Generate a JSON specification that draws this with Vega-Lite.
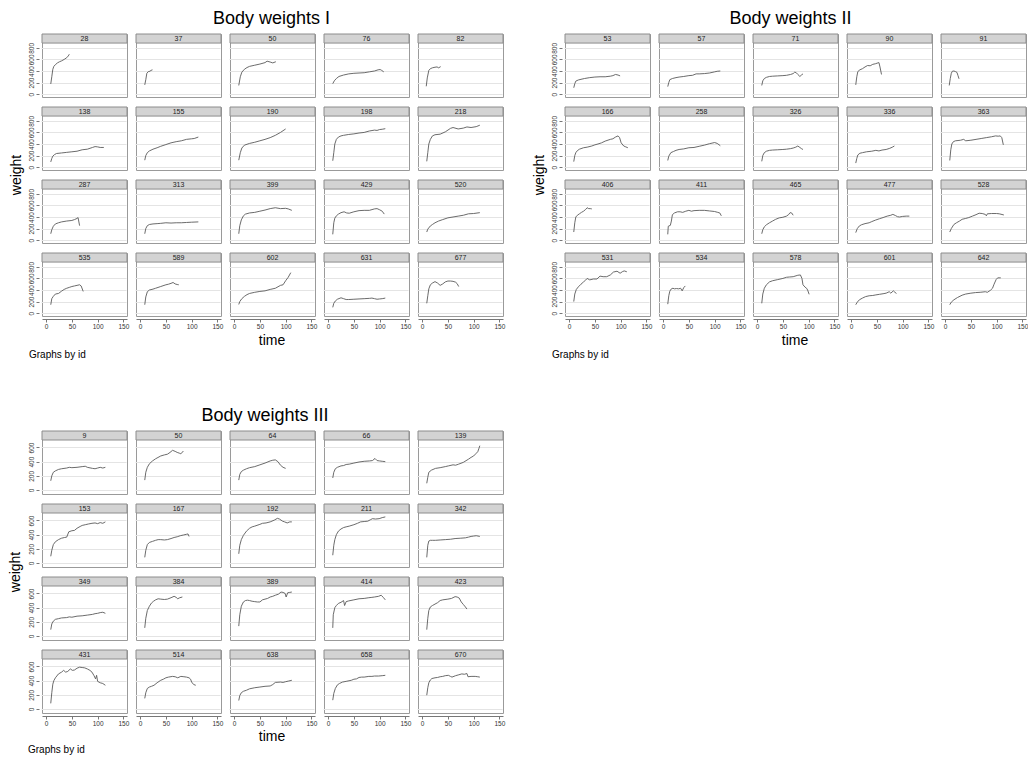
{
"$schema": "https://vega.github.io/schema/vega-lite/v6.json",
"background": "white",
"padding": {"left": 8, "top": 10, "right": 0, "bottom": 0},
"config": {
  "font": "Liberation Sans",
  "view": {"stroke": "#9a9a9a", "strokeWidth": 1},
  "title": {"fontSize": 18, "fontWeight": "normal", "color": "#000", "offset": 5, "anchor": "middle"},
  "header": {"titleFontSize": 14, "titleFontWeight": "normal", "titleColor": "#000"},
  "axisX": {"grid": false, "tickSize": 3, "tickColor": "#777", "domainColor": "#777", "labelFontSize": 6.5, "labelColor": "#333", "labelPadding": 1, "offset": 2, "labelOverlap": false, "labelFlush": false},
  "axisY": {"grid": true, "gridColor": "#e4e4e4", "gridWidth": 1.2, "domain": false, "tickSize": 3, "tickColor": "#777", "labelAngle": -90, "labelFontSize": 6.5, "labelColor": "#333", "labelPadding": 2, "offset": 1, "labelOverlap": false, "labelFlush": false}
},
"datasets": {
"g1": [
{"id":28,"time":9,"weight":175},{"id":28,"time":11,"weight":300},{"id":28,"time":13,"weight":430},{"id":28,"time":15,"weight":480},{"id":28,"time":18,"weight":510},{"id":28,"time":22,"weight":540},{"id":28,"time":26,"weight":560},{"id":28,"time":30,"weight":575},{"id":28,"time":35,"weight":600},{"id":28,"time":40,"weight":630},{"id":28,"time":43,"weight":660},{"id":28,"time":45,"weight":690},
{"id":37,"time":9,"weight":160},{"id":37,"time":11,"weight":250},{"id":37,"time":13,"weight":360},{"id":37,"time":16,"weight":390},{"id":37,"time":19,"weight":395},{"id":37,"time":21,"weight":410},{"id":37,"time":24,"weight":420},
{"id":50,"time":9,"weight":150},{"id":50,"time":12,"weight":300},{"id":50,"time":15,"weight":380},{"id":50,"time":20,"weight":430},{"id":50,"time":25,"weight":460},{"id":50,"time":30,"weight":480},{"id":50,"time":40,"weight":500},{"id":50,"time":50,"weight":520},{"id":50,"time":60,"weight":545},{"id":50,"time":64,"weight":570},{"id":50,"time":70,"weight":555},{"id":50,"time":75,"weight":540},{"id":50,"time":81,"weight":560},
{"id":76,"time":9,"weight":180},{"id":76,"time":12,"weight":230},{"id":76,"time":16,"weight":270},{"id":76,"time":21,"weight":305},{"id":76,"time":30,"weight":330},{"id":76,"time":40,"weight":350},{"id":76,"time":50,"weight":360},{"id":76,"time":60,"weight":365},{"id":76,"time":70,"weight":370},{"id":76,"time":80,"weight":385},{"id":76,"time":90,"weight":400},{"id":76,"time":97,"weight":420},{"id":76,"time":101,"weight":425},{"id":76,"time":104,"weight":410},{"id":76,"time":108,"weight":385},
{"id":82,"time":8,"weight":135},{"id":82,"time":10,"weight":280},{"id":82,"time":13,"weight":410},{"id":82,"time":16,"weight":440},{"id":82,"time":20,"weight":455},{"id":82,"time":25,"weight":465},{"id":82,"time":29,"weight":470},{"id":82,"time":32,"weight":455},{"id":82,"time":36,"weight":475},
{"id":138,"time":9,"weight":90},{"id":138,"time":11,"weight":150},{"id":138,"time":13,"weight":190},{"id":138,"time":16,"weight":215},{"id":138,"time":20,"weight":235},{"id":138,"time":30,"weight":245},{"id":138,"time":40,"weight":255},{"id":138,"time":50,"weight":265},{"id":138,"time":60,"weight":275},{"id":138,"time":70,"weight":300},{"id":138,"time":80,"weight":310},{"id":138,"time":90,"weight":340},{"id":138,"time":95,"weight":355},{"id":138,"time":100,"weight":350},{"id":138,"time":105,"weight":340},{"id":138,"time":112,"weight":340},
{"id":155,"time":9,"weight":120},{"id":155,"time":11,"weight":200},{"id":155,"time":14,"weight":250},{"id":155,"time":18,"weight":280},{"id":155,"time":25,"weight":310},{"id":155,"time":33,"weight":335},{"id":155,"time":40,"weight":360},{"id":155,"time":50,"weight":390},{"id":155,"time":60,"weight":420},{"id":155,"time":70,"weight":440},{"id":155,"time":80,"weight":455},{"id":155,"time":90,"weight":480},{"id":155,"time":100,"weight":490},{"id":155,"time":105,"weight":495},{"id":155,"time":113,"weight":520},
{"id":190,"time":9,"weight":120},{"id":190,"time":12,"weight":250},{"id":190,"time":15,"weight":330},{"id":190,"time":20,"weight":380},{"id":190,"time":30,"weight":410},{"id":190,"time":40,"weight":430},{"id":190,"time":50,"weight":455},{"id":190,"time":60,"weight":480},{"id":190,"time":70,"weight":510},{"id":190,"time":80,"weight":550},{"id":190,"time":90,"weight":600},{"id":190,"time":100,"weight":660},
{"id":198,"time":9,"weight":110},{"id":198,"time":11,"weight":250},{"id":198,"time":13,"weight":400},{"id":198,"time":16,"weight":480},{"id":198,"time":20,"weight":520},{"id":198,"time":25,"weight":540},{"id":198,"time":30,"weight":550},{"id":198,"time":40,"weight":565},{"id":198,"time":50,"weight":575},{"id":198,"time":60,"weight":590},{"id":198,"time":70,"weight":600},{"id":198,"time":80,"weight":625},{"id":198,"time":90,"weight":640},{"id":198,"time":95,"weight":635},{"id":198,"time":100,"weight":650},{"id":198,"time":105,"weight":655},{"id":198,"time":111,"weight":665},
{"id":218,"time":9,"weight":100},{"id":218,"time":11,"weight":250},{"id":218,"time":13,"weight":400},{"id":218,"time":16,"weight":480},{"id":218,"time":20,"weight":540},{"id":218,"time":25,"weight":560},{"id":218,"time":35,"weight":570},{"id":218,"time":45,"weight":610},{"id":218,"time":55,"weight":670},{"id":218,"time":60,"weight":685},{"id":218,"time":70,"weight":660},{"id":218,"time":80,"weight":675},{"id":218,"time":87,"weight":695},{"id":218,"time":95,"weight":685},{"id":218,"time":105,"weight":700},{"id":218,"time":112,"weight":725},
{"id":287,"time":9,"weight":110},{"id":287,"time":11,"weight":180},{"id":287,"time":14,"weight":240},{"id":287,"time":18,"weight":280},{"id":287,"time":24,"weight":300},{"id":287,"time":30,"weight":315},{"id":287,"time":40,"weight":330},{"id":287,"time":50,"weight":340},{"id":287,"time":55,"weight":355},{"id":287,"time":60,"weight":375},{"id":287,"time":62,"weight":390},{"id":287,"time":65,"weight":250},
{"id":313,"time":9,"weight":110},{"id":313,"time":11,"weight":200},{"id":313,"time":14,"weight":250},{"id":313,"time":18,"weight":270},{"id":313,"time":25,"weight":280},{"id":313,"time":33,"weight":285},{"id":313,"time":40,"weight":290},{"id":313,"time":50,"weight":300},{"id":313,"time":60,"weight":295},{"id":313,"time":70,"weight":300},{"id":313,"time":80,"weight":300},{"id":313,"time":90,"weight":305},{"id":313,"time":100,"weight":310},{"id":313,"time":113,"weight":315},
{"id":399,"time":9,"weight":110},{"id":399,"time":11,"weight":250},{"id":399,"time":14,"weight":350},{"id":399,"time":18,"weight":420},{"id":399,"time":22,"weight":450},{"id":399,"time":30,"weight":470},{"id":399,"time":40,"weight":480},{"id":399,"time":50,"weight":500},{"id":399,"time":60,"weight":520},{"id":399,"time":70,"weight":545},{"id":399,"time":80,"weight":560},{"id":399,"time":90,"weight":545},{"id":399,"time":100,"weight":550},{"id":399,"time":105,"weight":540},{"id":399,"time":112,"weight":515},
{"id":429,"time":9,"weight":100},{"id":429,"time":11,"weight":300},{"id":429,"time":13,"weight":380},{"id":429,"time":16,"weight":420},{"id":429,"time":20,"weight":450},{"id":429,"time":25,"weight":475},{"id":429,"time":31,"weight":490},{"id":429,"time":36,"weight":470},{"id":429,"time":41,"weight":465},{"id":429,"time":50,"weight":490},{"id":429,"time":60,"weight":510},{"id":429,"time":70,"weight":515},{"id":429,"time":80,"weight":515},{"id":429,"time":90,"weight":540},{"id":429,"time":95,"weight":545},{"id":429,"time":100,"weight":525},{"id":429,"time":105,"weight":500},{"id":429,"time":109,"weight":450},
{"id":520,"time":9,"weight":140},{"id":520,"time":11,"weight":190},{"id":520,"time":16,"weight":245},{"id":520,"time":20,"weight":270},{"id":520,"time":25,"weight":300},{"id":520,"time":32,"weight":330},{"id":520,"time":40,"weight":355},{"id":520,"time":50,"weight":385},{"id":520,"time":60,"weight":400},{"id":520,"time":70,"weight":415},{"id":520,"time":80,"weight":430},{"id":520,"time":90,"weight":455},{"id":520,"time":100,"weight":460},{"id":520,"time":112,"weight":475},
{"id":535,"time":9,"weight":145},{"id":535,"time":11,"weight":250},{"id":535,"time":14,"weight":290},{"id":535,"time":18,"weight":330},{"id":535,"time":24,"weight":340},{"id":535,"time":30,"weight":380},{"id":535,"time":35,"weight":410},{"id":535,"time":40,"weight":430},{"id":535,"time":45,"weight":445},{"id":535,"time":50,"weight":460},{"id":535,"time":55,"weight":470},{"id":535,"time":60,"weight":480},{"id":535,"time":65,"weight":490},{"id":535,"time":68,"weight":470},{"id":535,"time":72,"weight":375},
{"id":589,"time":9,"weight":145},{"id":589,"time":11,"weight":280},{"id":589,"time":14,"weight":370},{"id":589,"time":18,"weight":400},{"id":589,"time":25,"weight":415},{"id":589,"time":30,"weight":430},{"id":589,"time":40,"weight":460},{"id":589,"time":50,"weight":490},{"id":589,"time":55,"weight":500},{"id":589,"time":60,"weight":515},{"id":589,"time":64,"weight":530},{"id":589,"time":68,"weight":505},{"id":589,"time":72,"weight":495},{"id":589,"time":75,"weight":490},
{"id":602,"time":9,"weight":150},{"id":602,"time":11,"weight":200},{"id":602,"time":15,"weight":250},{"id":602,"time":20,"weight":290},{"id":602,"time":25,"weight":320},{"id":602,"time":30,"weight":340},{"id":602,"time":40,"weight":360},{"id":602,"time":50,"weight":375},{"id":602,"time":60,"weight":385},{"id":602,"time":70,"weight":410},{"id":602,"time":80,"weight":430},{"id":602,"time":90,"weight":480},{"id":602,"time":95,"weight":490},{"id":602,"time":100,"weight":560},{"id":602,"time":105,"weight":620},{"id":602,"time":110,"weight":700},
{"id":631,"time":9,"weight":100},{"id":631,"time":11,"weight":170},{"id":631,"time":14,"weight":210},{"id":631,"time":18,"weight":240},{"id":631,"time":25,"weight":265},{"id":631,"time":30,"weight":250},{"id":631,"time":35,"weight":235},{"id":631,"time":40,"weight":235},{"id":631,"time":50,"weight":240},{"id":631,"time":60,"weight":245},{"id":631,"time":70,"weight":250},{"id":631,"time":80,"weight":255},{"id":631,"time":85,"weight":260},{"id":631,"time":90,"weight":250},{"id":631,"time":95,"weight":240},{"id":631,"time":100,"weight":245},{"id":631,"time":105,"weight":250},{"id":631,"time":111,"weight":260},
{"id":677,"time":9,"weight":170},{"id":677,"time":11,"weight":300},{"id":677,"time":13,"weight":420},{"id":677,"time":16,"weight":490},{"id":677,"time":20,"weight":520},{"id":677,"time":25,"weight":545},{"id":677,"time":30,"weight":520},{"id":677,"time":35,"weight":480},{"id":677,"time":40,"weight":505},{"id":677,"time":45,"weight":540},{"id":677,"time":50,"weight":555},{"id":677,"time":55,"weight":555},{"id":677,"time":60,"weight":550},{"id":677,"time":65,"weight":535},{"id":677,"time":68,"weight":510},{"id":677,"time":71,"weight":460}
],
"g2": [
{"id":53,"time":9,"weight":110},{"id":53,"time":11,"weight":180},{"id":53,"time":13,"weight":225},{"id":53,"time":18,"weight":245},{"id":53,"time":25,"weight":260},{"id":53,"time":30,"weight":270},{"id":53,"time":40,"weight":285},{"id":53,"time":50,"weight":295},{"id":53,"time":60,"weight":300},{"id":53,"time":70,"weight":300},{"id":53,"time":80,"weight":310},{"id":53,"time":85,"weight":320},{"id":53,"time":90,"weight":340},{"id":53,"time":95,"weight":330},{"id":53,"time":99,"weight":315},
{"id":57,"time":9,"weight":130},{"id":57,"time":11,"weight":200},{"id":57,"time":13,"weight":250},{"id":57,"time":18,"weight":270},{"id":57,"time":25,"weight":285},{"id":57,"time":31,"weight":295},{"id":57,"time":40,"weight":305},{"id":57,"time":50,"weight":320},{"id":57,"time":57,"weight":325},{"id":57,"time":64,"weight":350},{"id":57,"time":70,"weight":350},{"id":57,"time":80,"weight":355},{"id":57,"time":90,"weight":365},{"id":57,"time":100,"weight":385},{"id":57,"time":105,"weight":395},{"id":57,"time":111,"weight":400},
{"id":71,"time":9,"weight":150},{"id":71,"time":11,"weight":230},{"id":71,"time":14,"weight":270},{"id":71,"time":18,"weight":290},{"id":71,"time":24,"weight":305},{"id":71,"time":30,"weight":310},{"id":71,"time":40,"weight":315},{"id":71,"time":50,"weight":320},{"id":71,"time":57,"weight":325},{"id":71,"time":65,"weight":340},{"id":71,"time":70,"weight":355},{"id":71,"time":73,"weight":380},{"id":71,"time":76,"weight":370},{"id":71,"time":79,"weight":340},{"id":71,"time":83,"weight":305},{"id":71,"time":86,"weight":330},{"id":71,"time":89,"weight":350},
{"id":90,"time":9,"weight":160},{"id":90,"time":11,"weight":300},{"id":90,"time":13,"weight":390},{"id":90,"time":17,"weight":420},{"id":90,"time":22,"weight":440},{"id":90,"time":27,"weight":470},{"id":90,"time":32,"weight":495},{"id":90,"time":37,"weight":490},{"id":90,"time":42,"weight":515},{"id":90,"time":47,"weight":525},{"id":90,"time":52,"weight":540},{"id":90,"time":54,"weight":545},{"id":90,"time":56,"weight":470},{"id":90,"time":59,"weight":340},
{"id":91,"time":8,"weight":150},{"id":91,"time":10,"weight":270},{"id":91,"time":12,"weight":360},{"id":91,"time":14,"weight":395},{"id":91,"time":17,"weight":400},{"id":91,"time":20,"weight":390},{"id":91,"time":23,"weight":375},{"id":91,"time":25,"weight":320},{"id":91,"time":27,"weight":265},
{"id":166,"time":9,"weight":95},{"id":166,"time":11,"weight":200},{"id":166,"time":13,"weight":250},{"id":166,"time":16,"weight":285},{"id":166,"time":20,"weight":310},{"id":166,"time":28,"weight":335},{"id":166,"time":35,"weight":345},{"id":166,"time":44,"weight":365},{"id":166,"time":50,"weight":385},{"id":166,"time":56,"weight":400},{"id":166,"time":63,"weight":420},{"id":166,"time":70,"weight":450},{"id":166,"time":80,"weight":480},{"id":166,"time":85,"weight":490},{"id":166,"time":90,"weight":520},{"id":166,"time":95,"weight":540},{"id":166,"time":98,"weight":510},{"id":166,"time":101,"weight":420},{"id":166,"time":106,"weight":365},{"id":166,"time":110,"weight":350},{"id":166,"time":114,"weight":335},
{"id":258,"time":9,"weight":115},{"id":258,"time":11,"weight":190},{"id":258,"time":15,"weight":250},{"id":258,"time":20,"weight":270},{"id":258,"time":25,"weight":290},{"id":258,"time":31,"weight":305},{"id":258,"time":40,"weight":315},{"id":258,"time":50,"weight":335},{"id":258,"time":60,"weight":340},{"id":258,"time":70,"weight":360},{"id":258,"time":80,"weight":380},{"id":258,"time":90,"weight":405},{"id":258,"time":95,"weight":415},{"id":258,"time":100,"weight":425},{"id":258,"time":105,"weight":410},{"id":258,"time":111,"weight":370},
{"id":326,"time":9,"weight":100},{"id":326,"time":11,"weight":200},{"id":326,"time":14,"weight":250},{"id":326,"time":18,"weight":275},{"id":326,"time":24,"weight":290},{"id":326,"time":30,"weight":295},{"id":326,"time":40,"weight":300},{"id":326,"time":50,"weight":305},{"id":326,"time":57,"weight":310},{"id":326,"time":65,"weight":320},{"id":326,"time":70,"weight":330},{"id":326,"time":75,"weight":345},{"id":326,"time":79,"weight":365},{"id":326,"time":83,"weight":340},{"id":326,"time":86,"weight":320},{"id":326,"time":89,"weight":305},
{"id":336,"time":9,"weight":70},{"id":336,"time":11,"weight":150},{"id":336,"time":13,"weight":210},{"id":336,"time":17,"weight":240},{"id":336,"time":22,"weight":250},{"id":336,"time":30,"weight":265},{"id":336,"time":40,"weight":275},{"id":336,"time":48,"weight":290},{"id":336,"time":54,"weight":280},{"id":336,"time":60,"weight":295},{"id":336,"time":68,"weight":305},{"id":336,"time":75,"weight":325},{"id":336,"time":80,"weight":345},{"id":336,"time":84,"weight":365},
{"id":363,"time":9,"weight":115},{"id":363,"time":11,"weight":300},{"id":363,"time":13,"weight":400},{"id":363,"time":16,"weight":440},{"id":363,"time":20,"weight":455},{"id":363,"time":25,"weight":460},{"id":363,"time":30,"weight":465},{"id":363,"time":36,"weight":480},{"id":363,"time":40,"weight":455},{"id":363,"time":50,"weight":465},{"id":363,"time":60,"weight":480},{"id":363,"time":70,"weight":495},{"id":363,"time":80,"weight":510},{"id":363,"time":90,"weight":525},{"id":363,"time":98,"weight":540},{"id":363,"time":103,"weight":535},{"id":363,"time":107,"weight":540},{"id":363,"time":110,"weight":510},{"id":363,"time":113,"weight":385},
{"id":406,"time":9,"weight":140},{"id":406,"time":11,"weight":300},{"id":406,"time":13,"weight":400},{"id":406,"time":16,"weight":430},{"id":406,"time":20,"weight":455},{"id":406,"time":24,"weight":480},{"id":406,"time":28,"weight":500},{"id":406,"time":32,"weight":530},{"id":406,"time":35,"weight":560},{"id":406,"time":38,"weight":545},{"id":406,"time":41,"weight":545},{"id":406,"time":44,"weight":540},
{"id":411,"time":9,"weight":100},{"id":411,"time":10,"weight":240},{"id":411,"time":14,"weight":255},{"id":411,"time":16,"weight":330},{"id":411,"time":18,"weight":440},{"id":411,"time":22,"weight":470},{"id":411,"time":28,"weight":490},{"id":411,"time":33,"weight":490},{"id":411,"time":38,"weight":480},{"id":411,"time":44,"weight":500},{"id":411,"time":50,"weight":515},{"id":411,"time":55,"weight":500},{"id":411,"time":60,"weight":510},{"id":411,"time":70,"weight":515},{"id":411,"time":80,"weight":515},{"id":411,"time":90,"weight":505},{"id":411,"time":100,"weight":495},{"id":411,"time":106,"weight":480},{"id":411,"time":110,"weight":470},{"id":411,"time":113,"weight":420},
{"id":465,"time":9,"weight":110},{"id":465,"time":11,"weight":180},{"id":465,"time":14,"weight":230},{"id":465,"time":18,"weight":265},{"id":465,"time":24,"weight":300},{"id":465,"time":30,"weight":330},{"id":465,"time":36,"weight":360},{"id":465,"time":43,"weight":385},{"id":465,"time":50,"weight":395},{"id":465,"time":57,"weight":415},{"id":465,"time":61,"weight":440},{"id":465,"time":64,"weight":475},{"id":465,"time":67,"weight":470},{"id":465,"time":70,"weight":430},
{"id":477,"time":9,"weight":130},{"id":477,"time":12,"weight":200},{"id":477,"time":16,"weight":245},{"id":477,"time":20,"weight":265},{"id":477,"time":27,"weight":285},{"id":477,"time":35,"weight":300},{"id":477,"time":40,"weight":320},{"id":477,"time":47,"weight":345},{"id":477,"time":55,"weight":370},{"id":477,"time":62,"weight":390},{"id":477,"time":70,"weight":415},{"id":477,"time":77,"weight":430},{"id":477,"time":81,"weight":445},{"id":477,"time":86,"weight":425},{"id":477,"time":90,"weight":405},{"id":477,"time":94,"weight":400},{"id":477,"time":100,"weight":410},{"id":477,"time":107,"weight":415},{"id":477,"time":113,"weight":415},
{"id":528,"time":9,"weight":140},{"id":528,"time":12,"weight":200},{"id":528,"time":17,"weight":270},{"id":528,"time":22,"weight":300},{"id":528,"time":28,"weight":330},{"id":528,"time":33,"weight":360},{"id":528,"time":40,"weight":375},{"id":528,"time":46,"weight":390},{"id":528,"time":53,"weight":415},{"id":528,"time":60,"weight":440},{"id":528,"time":66,"weight":465},{"id":528,"time":72,"weight":460},{"id":528,"time":78,"weight":445},{"id":528,"time":80,"weight":420},{"id":528,"time":82,"weight":455},{"id":528,"time":90,"weight":460},{"id":528,"time":100,"weight":460},{"id":528,"time":105,"weight":455},{"id":528,"time":114,"weight":435},
{"id":531,"time":9,"weight":200},{"id":531,"time":11,"weight":330},{"id":531,"time":14,"weight":410},{"id":531,"time":18,"weight":455},{"id":531,"time":23,"weight":500},{"id":531,"time":28,"weight":540},{"id":531,"time":32,"weight":570},{"id":531,"time":35,"weight":600},{"id":531,"time":40,"weight":575},{"id":531,"time":47,"weight":590},{"id":531,"time":54,"weight":590},{"id":531,"time":60,"weight":640},{"id":531,"time":66,"weight":630},{"id":531,"time":73,"weight":630},{"id":531,"time":80,"weight":660},{"id":531,"time":86,"weight":710},{"id":531,"time":93,"weight":725},{"id":531,"time":99,"weight":690},{"id":531,"time":104,"weight":720},{"id":531,"time":107,"weight":730},{"id":531,"time":112,"weight":715},
{"id":534,"time":9,"weight":155},{"id":534,"time":11,"weight":300},{"id":534,"time":13,"weight":380},{"id":534,"time":16,"weight":420},{"id":534,"time":19,"weight":430},{"id":534,"time":22,"weight":420},{"id":534,"time":26,"weight":425},{"id":534,"time":30,"weight":420},{"id":534,"time":34,"weight":430},{"id":534,"time":37,"weight":385},{"id":534,"time":40,"weight":440},{"id":534,"time":43,"weight":470},
{"id":578,"time":9,"weight":170},{"id":578,"time":11,"weight":330},{"id":578,"time":14,"weight":430},{"id":578,"time":18,"weight":490},{"id":578,"time":24,"weight":540},{"id":578,"time":30,"weight":560},{"id":578,"time":40,"weight":580},{"id":578,"time":50,"weight":600},{"id":578,"time":57,"weight":620},{"id":578,"time":63,"weight":625},{"id":578,"time":70,"weight":630},{"id":578,"time":79,"weight":655},{"id":578,"time":84,"weight":660},{"id":578,"time":87,"weight":600},{"id":578,"time":89,"weight":490},{"id":578,"time":93,"weight":450},{"id":578,"time":96,"weight":430},{"id":578,"time":98,"weight":400},{"id":578,"time":101,"weight":325},
{"id":601,"time":9,"weight":145},{"id":601,"time":12,"weight":190},{"id":601,"time":16,"weight":230},{"id":601,"time":22,"weight":260},{"id":601,"time":28,"weight":285},{"id":601,"time":35,"weight":300},{"id":601,"time":42,"weight":305},{"id":601,"time":48,"weight":315},{"id":601,"time":55,"weight":325},{"id":601,"time":62,"weight":335},{"id":601,"time":68,"weight":345},{"id":601,"time":74,"weight":370},{"id":601,"time":77,"weight":345},{"id":601,"time":82,"weight":385},{"id":601,"time":85,"weight":360},{"id":601,"time":88,"weight":340},
{"id":642,"time":9,"weight":145},{"id":642,"time":12,"weight":190},{"id":642,"time":17,"weight":230},{"id":642,"time":24,"weight":270},{"id":642,"time":33,"weight":310},{"id":642,"time":40,"weight":330},{"id":642,"time":50,"weight":345},{"id":642,"time":59,"weight":355},{"id":642,"time":68,"weight":360},{"id":642,"time":78,"weight":370},{"id":642,"time":82,"weight":360},{"id":642,"time":88,"weight":395},{"id":642,"time":92,"weight":430},{"id":642,"time":95,"weight":500},{"id":642,"time":99,"weight":580},{"id":642,"time":102,"weight":610},{"id":642,"time":108,"weight":610}
],
"g3": [
{"id":9,"time":9,"weight":130},{"id":9,"time":11,"weight":200},{"id":9,"time":14,"weight":250},{"id":9,"time":18,"weight":270},{"id":9,"time":24,"weight":290},{"id":9,"time":30,"weight":300},{"id":9,"time":40,"weight":310},{"id":9,"time":45,"weight":320},{"id":9,"time":50,"weight":315},{"id":9,"time":60,"weight":320},{"id":9,"time":70,"weight":330},{"id":9,"time":76,"weight":335},{"id":9,"time":80,"weight":320},{"id":9,"time":90,"weight":305},{"id":9,"time":95,"weight":300},{"id":9,"time":100,"weight":310},{"id":9,"time":105,"weight":320},{"id":9,"time":110,"weight":310},{"id":9,"time":115,"weight":320},
{"id":50,"time":9,"weight":140},{"id":50,"time":11,"weight":250},{"id":50,"time":14,"weight":320},{"id":50,"time":18,"weight":370},{"id":50,"time":24,"weight":410},{"id":50,"time":30,"weight":440},{"id":50,"time":40,"weight":480},{"id":50,"time":47,"weight":495},{"id":50,"time":53,"weight":505},{"id":50,"time":58,"weight":530},{"id":50,"time":63,"weight":560},{"id":50,"time":68,"weight":545},{"id":50,"time":72,"weight":530},{"id":50,"time":76,"weight":520},{"id":50,"time":79,"weight":510},{"id":50,"time":84,"weight":550},
{"id":64,"time":9,"weight":140},{"id":64,"time":11,"weight":220},{"id":64,"time":14,"weight":260},{"id":64,"time":18,"weight":280},{"id":64,"time":24,"weight":300},{"id":64,"time":30,"weight":315},{"id":64,"time":40,"weight":330},{"id":64,"time":50,"weight":355},{"id":64,"time":60,"weight":380},{"id":64,"time":70,"weight":410},{"id":64,"time":75,"weight":420},{"id":64,"time":80,"weight":425},{"id":64,"time":85,"weight":400},{"id":64,"time":90,"weight":350},{"id":64,"time":95,"weight":320},{"id":64,"time":100,"weight":305},
{"id":66,"time":9,"weight":170},{"id":66,"time":11,"weight":250},{"id":66,"time":14,"weight":300},{"id":66,"time":18,"weight":320},{"id":66,"time":25,"weight":340},{"id":66,"time":30,"weight":345},{"id":66,"time":35,"weight":360},{"id":66,"time":41,"weight":365},{"id":66,"time":50,"weight":380},{"id":66,"time":60,"weight":395},{"id":66,"time":70,"weight":405},{"id":66,"time":80,"weight":410},{"id":66,"time":86,"weight":415},{"id":66,"time":91,"weight":445},{"id":66,"time":95,"weight":415},{"id":66,"time":100,"weight":410},{"id":66,"time":105,"weight":405},{"id":66,"time":111,"weight":400},
{"id":139,"time":9,"weight":95},{"id":139,"time":11,"weight":180},{"id":139,"time":13,"weight":250},{"id":139,"time":18,"weight":280},{"id":139,"time":26,"weight":305},{"id":139,"time":35,"weight":315},{"id":139,"time":45,"weight":330},{"id":139,"time":51,"weight":340},{"id":139,"time":60,"weight":355},{"id":139,"time":65,"weight":350},{"id":139,"time":71,"weight":365},{"id":139,"time":80,"weight":390},{"id":139,"time":90,"weight":435},{"id":139,"time":95,"weight":460},{"id":139,"time":100,"weight":480},{"id":139,"time":104,"weight":510},{"id":139,"time":108,"weight":540},{"id":139,"time":110,"weight":580},{"id":139,"time":112,"weight":625},
{"id":153,"time":9,"weight":95},{"id":153,"time":11,"weight":180},{"id":153,"time":14,"weight":260},{"id":153,"time":18,"weight":300},{"id":153,"time":24,"weight":330},{"id":153,"time":30,"weight":350},{"id":153,"time":36,"weight":360},{"id":153,"time":40,"weight":365},{"id":153,"time":44,"weight":440},{"id":153,"time":50,"weight":455},{"id":153,"time":55,"weight":460},{"id":153,"time":60,"weight":490},{"id":153,"time":66,"weight":515},{"id":153,"time":70,"weight":530},{"id":153,"time":76,"weight":540},{"id":153,"time":82,"weight":550},{"id":153,"time":89,"weight":560},{"id":153,"time":95,"weight":565},{"id":153,"time":100,"weight":555},{"id":153,"time":105,"weight":570},{"id":153,"time":110,"weight":560},{"id":153,"time":115,"weight":580},
{"id":167,"time":9,"weight":80},{"id":167,"time":11,"weight":180},{"id":167,"time":14,"weight":260},{"id":167,"time":18,"weight":290},{"id":167,"time":24,"weight":305},{"id":167,"time":30,"weight":320},{"id":167,"time":35,"weight":330},{"id":167,"time":40,"weight":330},{"id":167,"time":47,"weight":325},{"id":167,"time":53,"weight":330},{"id":167,"time":60,"weight":345},{"id":167,"time":66,"weight":360},{"id":167,"time":72,"weight":370},{"id":167,"time":78,"weight":385},{"id":167,"time":84,"weight":395},{"id":167,"time":90,"weight":405},{"id":167,"time":93,"weight":410},{"id":167,"time":95,"weight":375},
{"id":192,"time":9,"weight":130},{"id":192,"time":11,"weight":250},{"id":192,"time":14,"weight":330},{"id":192,"time":18,"weight":390},{"id":192,"time":24,"weight":450},{"id":192,"time":30,"weight":490},{"id":192,"time":35,"weight":510},{"id":192,"time":40,"weight":520},{"id":192,"time":50,"weight":545},{"id":192,"time":55,"weight":560},{"id":192,"time":62,"weight":565},{"id":192,"time":70,"weight":580},{"id":192,"time":78,"weight":605},{"id":192,"time":84,"weight":630},{"id":192,"time":88,"weight":620},{"id":192,"time":94,"weight":590},{"id":192,"time":98,"weight":580},{"id":192,"time":103,"weight":565},{"id":192,"time":108,"weight":580},{"id":192,"time":112,"weight":580},
{"id":211,"time":9,"weight":110},{"id":211,"time":11,"weight":250},{"id":211,"time":13,"weight":330},{"id":211,"time":16,"weight":400},{"id":211,"time":20,"weight":450},{"id":211,"time":25,"weight":480},{"id":211,"time":30,"weight":500},{"id":211,"time":35,"weight":510},{"id":211,"time":41,"weight":520},{"id":211,"time":50,"weight":540},{"id":211,"time":57,"weight":560},{"id":211,"time":63,"weight":580},{"id":211,"time":70,"weight":585},{"id":211,"time":77,"weight":590},{"id":211,"time":82,"weight":610},{"id":211,"time":86,"weight":625},{"id":211,"time":92,"weight":620},{"id":211,"time":99,"weight":625},{"id":211,"time":105,"weight":640},{"id":211,"time":111,"weight":650},
{"id":342,"time":9,"weight":80},{"id":342,"time":11,"weight":250},{"id":342,"time":13,"weight":310},{"id":342,"time":16,"weight":320},{"id":342,"time":20,"weight":320},{"id":342,"time":26,"weight":320},{"id":342,"time":35,"weight":325},{"id":342,"time":45,"weight":330},{"id":342,"time":55,"weight":335},{"id":342,"time":64,"weight":345},{"id":342,"time":75,"weight":350},{"id":342,"time":84,"weight":355},{"id":342,"time":90,"weight":365},{"id":342,"time":95,"weight":375},{"id":342,"time":100,"weight":380},{"id":342,"time":105,"weight":385},{"id":342,"time":112,"weight":375},
{"id":349,"time":9,"weight":90},{"id":349,"time":11,"weight":170},{"id":349,"time":14,"weight":210},{"id":349,"time":18,"weight":235},{"id":349,"time":24,"weight":245},{"id":349,"time":30,"weight":255},{"id":349,"time":40,"weight":260},{"id":349,"time":45,"weight":270},{"id":349,"time":50,"weight":265},{"id":349,"time":60,"weight":280},{"id":349,"time":70,"weight":285},{"id":349,"time":80,"weight":295},{"id":349,"time":90,"weight":305},{"id":349,"time":95,"weight":315},{"id":349,"time":100,"weight":320},{"id":349,"time":105,"weight":330},{"id":349,"time":110,"weight":335},{"id":349,"time":115,"weight":320},
{"id":384,"time":9,"weight":115},{"id":384,"time":11,"weight":250},{"id":384,"time":14,"weight":360},{"id":384,"time":18,"weight":420},{"id":384,"time":22,"weight":465},{"id":384,"time":26,"weight":490},{"id":384,"time":30,"weight":510},{"id":384,"time":35,"weight":525},{"id":384,"time":40,"weight":520},{"id":384,"time":47,"weight":515},{"id":384,"time":53,"weight":520},{"id":384,"time":60,"weight":540},{"id":384,"time":66,"weight":560},{"id":384,"time":70,"weight":545},{"id":384,"time":73,"weight":525},{"id":384,"time":77,"weight":540},{"id":384,"time":82,"weight":550},
{"id":389,"time":9,"weight":140},{"id":389,"time":11,"weight":300},{"id":389,"time":14,"weight":420},{"id":389,"time":18,"weight":480},{"id":389,"time":22,"weight":500},{"id":389,"time":26,"weight":505},{"id":389,"time":30,"weight":500},{"id":389,"time":35,"weight":490},{"id":389,"time":40,"weight":485},{"id":389,"time":45,"weight":480},{"id":389,"time":50,"weight":480},{"id":389,"time":55,"weight":510},{"id":389,"time":60,"weight":520},{"id":389,"time":65,"weight":530},{"id":389,"time":70,"weight":550},{"id":389,"time":75,"weight":560},{"id":389,"time":80,"weight":575},{"id":389,"time":86,"weight":590},{"id":389,"time":91,"weight":620},{"id":389,"time":95,"weight":615},{"id":389,"time":99,"weight":600},{"id":389,"time":101,"weight":550},{"id":389,"time":104,"weight":610},{"id":389,"time":108,"weight":615},{"id":389,"time":112,"weight":620},
{"id":414,"time":9,"weight":115},{"id":414,"time":10,"weight":300},{"id":414,"time":13,"weight":400},{"id":414,"time":16,"weight":430},{"id":414,"time":20,"weight":460},{"id":414,"time":25,"weight":475},{"id":414,"time":30,"weight":500},{"id":414,"time":32,"weight":430},{"id":414,"time":35,"weight":485},{"id":414,"time":40,"weight":495},{"id":414,"time":50,"weight":510},{"id":414,"time":60,"weight":525},{"id":414,"time":70,"weight":530},{"id":414,"time":79,"weight":540},{"id":414,"time":85,"weight":545},{"id":414,"time":90,"weight":550},{"id":414,"time":98,"weight":560},{"id":414,"time":103,"weight":575},{"id":414,"time":107,"weight":545},{"id":414,"time":111,"weight":510},
{"id":423,"time":9,"weight":90},{"id":423,"time":11,"weight":250},{"id":423,"time":13,"weight":360},{"id":423,"time":16,"weight":410},{"id":423,"time":20,"weight":430},{"id":423,"time":25,"weight":450},{"id":423,"time":30,"weight":470},{"id":423,"time":35,"weight":500},{"id":423,"time":40,"weight":510},{"id":423,"time":50,"weight":520},{"id":423,"time":57,"weight":530},{"id":423,"time":64,"weight":555},{"id":423,"time":68,"weight":550},{"id":423,"time":72,"weight":535},{"id":423,"time":76,"weight":480},{"id":423,"time":80,"weight":445},{"id":423,"time":84,"weight":410},{"id":423,"time":87,"weight":380},
{"id":431,"time":9,"weight":80},{"id":431,"time":11,"weight":230},{"id":431,"time":13,"weight":350},{"id":431,"time":15,"weight":400},{"id":431,"time":18,"weight":440},{"id":431,"time":24,"weight":495},{"id":431,"time":30,"weight":520},{"id":431,"time":34,"weight":545},{"id":431,"time":38,"weight":520},{"id":431,"time":42,"weight":530},{"id":431,"time":47,"weight":565},{"id":431,"time":51,"weight":545},{"id":431,"time":55,"weight":550},{"id":431,"time":60,"weight":575},{"id":431,"time":65,"weight":590},{"id":431,"time":70,"weight":585},{"id":431,"time":75,"weight":580},{"id":431,"time":80,"weight":565},{"id":431,"time":85,"weight":545},{"id":431,"time":89,"weight":520},{"id":431,"time":93,"weight":470},{"id":431,"time":96,"weight":425},{"id":431,"time":98,"weight":475},{"id":431,"time":100,"weight":390},{"id":431,"time":105,"weight":370},{"id":431,"time":110,"weight":360},{"id":431,"time":115,"weight":335},
{"id":514,"time":9,"weight":150},{"id":514,"time":11,"weight":230},{"id":514,"time":14,"weight":290},{"id":514,"time":18,"weight":310},{"id":514,"time":22,"weight":320},{"id":514,"time":27,"weight":335},{"id":514,"time":33,"weight":370},{"id":514,"time":40,"weight":405},{"id":514,"time":45,"weight":420},{"id":514,"time":50,"weight":440},{"id":514,"time":55,"weight":450},{"id":514,"time":63,"weight":460},{"id":514,"time":68,"weight":455},{"id":514,"time":73,"weight":440},{"id":514,"time":79,"weight":460},{"id":514,"time":85,"weight":455},{"id":514,"time":90,"weight":450},{"id":514,"time":95,"weight":440},{"id":514,"time":98,"weight":420},{"id":514,"time":100,"weight":380},{"id":514,"time":104,"weight":345},{"id":514,"time":108,"weight":335},
{"id":638,"time":9,"weight":120},{"id":638,"time":11,"weight":190},{"id":638,"time":14,"weight":230},{"id":638,"time":18,"weight":250},{"id":638,"time":24,"weight":265},{"id":638,"time":30,"weight":285},{"id":638,"time":40,"weight":300},{"id":638,"time":50,"weight":310},{"id":638,"time":60,"weight":320},{"id":638,"time":70,"weight":325},{"id":638,"time":75,"weight":345},{"id":638,"time":80,"weight":375},{"id":638,"time":90,"weight":380},{"id":638,"time":95,"weight":375},{"id":638,"time":100,"weight":385},{"id":638,"time":106,"weight":395},{"id":638,"time":112,"weight":405},
{"id":658,"time":9,"weight":125},{"id":658,"time":11,"weight":220},{"id":658,"time":14,"weight":290},{"id":658,"time":18,"weight":340},{"id":658,"time":22,"weight":360},{"id":658,"time":28,"weight":380},{"id":658,"time":35,"weight":390},{"id":658,"time":45,"weight":405},{"id":658,"time":50,"weight":420},{"id":658,"time":55,"weight":425},{"id":658,"time":60,"weight":445},{"id":658,"time":65,"weight":450},{"id":658,"time":70,"weight":450},{"id":658,"time":79,"weight":460},{"id":658,"time":85,"weight":460},{"id":658,"time":90,"weight":465},{"id":658,"time":98,"weight":465},{"id":658,"time":105,"weight":470},{"id":658,"time":111,"weight":475},
{"id":670,"time":9,"weight":195},{"id":670,"time":11,"weight":300},{"id":670,"time":13,"weight":370},{"id":670,"time":16,"weight":410},{"id":670,"time":19,"weight":430},{"id":670,"time":25,"weight":440},{"id":670,"time":30,"weight":445},{"id":670,"time":35,"weight":455},{"id":670,"time":40,"weight":460},{"id":670,"time":45,"weight":470},{"id":670,"time":51,"weight":475},{"id":670,"time":55,"weight":460},{"id":670,"time":58,"weight":450},{"id":670,"time":65,"weight":470},{"id":670,"time":70,"weight":480},{"id":670,"time":77,"weight":495},{"id":670,"time":82,"weight":490},{"id":670,"time":87,"weight":500},{"id":670,"time":89,"weight":455},{"id":670,"time":95,"weight":460},{"id":670,"time":103,"weight":460},{"id":670,"time":108,"weight":455},{"id":670,"time":112,"weight":450}
]
},
"spacing": 47,
"vconcat": [
 {"hconcat": [
  {"title": {"text": "Graphs by id", "orient": "bottom", "anchor": "start", "fontSize": 10, "fontWeight": "normal", "offset": 2, "dx": 19},
   "vconcat": [{
    "data": {"name": "g1"},
    "transform": [
     {"window": [{"op": "dense_rank", "as": "k"}], "sort": [{"field": "id", "order": "ascending"}]},
     {"calculate": "floor((datum.k - 1) / 5)", "as": "r"},
     {"calculate": "(datum.k - 1) % 5", "as": "c"}
    ],
    "title": {"text": "Body weights I", "dx": 14},
    "facet": {
     "row": {"field": "r", "type": "ordinal", "header": {"title": "weight", "labels": false, "titlePadding": -6}},
     "column": {"field": "c", "type": "ordinal", "header": {"title": "time", "labels": false, "titleOrient": "bottom", "titlePadding": -6}}
    },
    "spacing": {"column": 6, "row": 8},
    "spec": {
     "width": 85, "height": 63,
     "layer": [
      {"transform": [{"aggregate": [{"op": "count", "as": "n"}], "groupby": ["id"]}],
       "layer": [
        {"mark": {"type": "rect", "fill": "#d3d3d3", "stroke": "#8c8c8c", "strokeWidth": 1},
         "encoding": {"x": {"datum": -8, "type": "quantitative", "scale": {"domain": [-8, 157], "nice": false, "zero": false}, "axis": {"title": null, "values": [0, 50, 100, 150], "tickCount": 20}}, "x2": {"datum": 157},
                      "y": {"datum": 883, "type": "quantitative", "scale": {"domain": [-50, 1040], "nice": false, "zero": false}, "axis": {"title": null, "values": [0, 200, 400, 600, 800], "tickCount": 20}}, "y2": {"datum": 1040}}},
        {"mark": {"type": "text", "fontSize": 7, "color": "#222", "baseline": "middle", "align": "center"},
         "encoding": {"x": {"datum": 74.5, "type": "quantitative"}, "y": {"datum": 962, "type": "quantitative"}, "text": {"field": "id"}}}
       ]},
      {"mark": {"type": "line", "color": "#5a5a5a", "strokeWidth": 0.9},
       "encoding": {
        "x": {"field": "time", "type": "quantitative", "scale": {"domain": [-8, 157], "nice": false, "zero": false}, "axis": {"title": null, "values": [0, 50, 100, 150], "tickCount": 20}},
        "y": {"field": "weight", "type": "quantitative", "scale": {"domain": [-50, 1040], "nice": false, "zero": false}, "axis": {"title": null, "values": [0, 200, 400, 600, 800], "tickCount": 20}}}}
     ]
    }
   }]
  },
  {"title": {"text": "Graphs by id", "orient": "bottom", "anchor": "start", "fontSize": 10, "fontWeight": "normal", "offset": 2, "dx": 19},
   "vconcat": [{
    "data": {"name": "g2"},
    "transform": [
     {"window": [{"op": "dense_rank", "as": "k"}], "sort": [{"field": "id", "order": "ascending"}]},
     {"calculate": "floor((datum.k - 1) / 5)", "as": "r"},
     {"calculate": "(datum.k - 1) % 5", "as": "c"}
    ],
    "title": {"text": "Body weights II", "dx": 10},
    "facet": {
     "row": {"field": "r", "type": "ordinal", "header": {"title": "weight", "labels": false, "titlePadding": -6}},
     "column": {"field": "c", "type": "ordinal", "header": {"title": "time", "labels": false, "titleOrient": "bottom", "titlePadding": -6}}
    },
    "spacing": {"column": 6, "row": 8},
    "spec": {
     "width": 85, "height": 63,
     "layer": [
      {"transform": [{"aggregate": [{"op": "count", "as": "n"}], "groupby": ["id"]}],
       "layer": [
        {"mark": {"type": "rect", "fill": "#d3d3d3", "stroke": "#8c8c8c", "strokeWidth": 1},
         "encoding": {"x": {"datum": -8, "type": "quantitative", "scale": {"domain": [-8, 157], "nice": false, "zero": false}, "axis": {"title": null, "values": [0, 50, 100, 150], "tickCount": 20}}, "x2": {"datum": 157},
                      "y": {"datum": 883, "type": "quantitative", "scale": {"domain": [-50, 1040], "nice": false, "zero": false}, "axis": {"title": null, "values": [0, 200, 400, 600, 800], "tickCount": 20}}, "y2": {"datum": 1040}}},
        {"mark": {"type": "text", "fontSize": 7, "color": "#222", "baseline": "middle", "align": "center"},
         "encoding": {"x": {"datum": 74.5, "type": "quantitative"}, "y": {"datum": 962, "type": "quantitative"}, "text": {"field": "id"}}}
       ]},
      {"mark": {"type": "line", "color": "#5a5a5a", "strokeWidth": 0.9},
       "encoding": {
        "x": {"field": "time", "type": "quantitative", "scale": {"domain": [-8, 157], "nice": false, "zero": false}, "axis": {"title": null, "values": [0, 50, 100, 150], "tickCount": 20}},
        "y": {"field": "weight", "type": "quantitative", "scale": {"domain": [-50, 1040], "nice": false, "zero": false}, "axis": {"title": null, "values": [0, 200, 400, 600, 800], "tickCount": 20}}}}
     ]
    }
   }]
  }
 ], "spacing": 27},
 {"title": {"text": "Graphs by id", "orient": "bottom", "anchor": "start", "fontSize": 10, "fontWeight": "normal", "offset": 1, "dx": 19},
  "vconcat": [{
   "data": {"name": "g3"},
   "transform": [
    {"window": [{"op": "dense_rank", "as": "k"}], "sort": [{"field": "id", "order": "ascending"}]},
    {"calculate": "floor((datum.k - 1) / 5)", "as": "r"},
    {"calculate": "(datum.k - 1) % 5", "as": "c"}
   ],
   "title": {"text": "Body weights III", "dx": 8},
   "facet": {
    "row": {"field": "r", "type": "ordinal", "header": {"title": "weight", "labels": false, "titlePadding": -6}},
    "column": {"field": "c", "type": "ordinal", "header": {"title": "time", "labels": false, "titleOrient": "bottom", "titlePadding": -7}}
   },
   "spacing": {"column": 6, "row": 8},
   "spec": {
    "width": 85, "height": 63,
    "layer": [
     {"transform": [{"aggregate": [{"op": "count", "as": "n"}], "groupby": ["id"]}],
      "layer": [
       {"mark": {"type": "rect", "fill": "#d3d3d3", "stroke": "#8c8c8c", "strokeWidth": 1},
        "encoding": {"x": {"datum": -8, "type": "quantitative", "scale": {"domain": [-8, 157], "nice": false, "zero": false}, "axis": {"title": null, "values": [0, 50, 100, 150], "tickCount": 20}}, "x2": {"datum": 157},
                     "y": {"datum": 705, "type": "quantitative", "scale": {"domain": [-56, 832], "nice": false, "zero": false}, "axis": {"title": null, "values": [0, 200, 400, 600], "tickCount": 20}}, "y2": {"datum": 832}}},
       {"mark": {"type": "text", "fontSize": 7, "color": "#222", "baseline": "middle", "align": "center"},
        "encoding": {"x": {"datum": 74.5, "type": "quantitative"}, "y": {"datum": 768, "type": "quantitative"}, "text": {"field": "id"}}}
      ]},
     {"mark": {"type": "line", "color": "#5a5a5a", "strokeWidth": 0.9},
      "encoding": {
       "x": {"field": "time", "type": "quantitative", "scale": {"domain": [-8, 157], "nice": false, "zero": false}, "axis": {"title": null, "values": [0, 50, 100, 150], "tickCount": 20}},
       "y": {"field": "weight", "type": "quantitative", "scale": {"domain": [-56, 832], "nice": false, "zero": false}, "axis": {"title": null, "values": [0, 200, 400, 600], "tickCount": 20}}}}
    ]
   }
  }]
 }
]
}
